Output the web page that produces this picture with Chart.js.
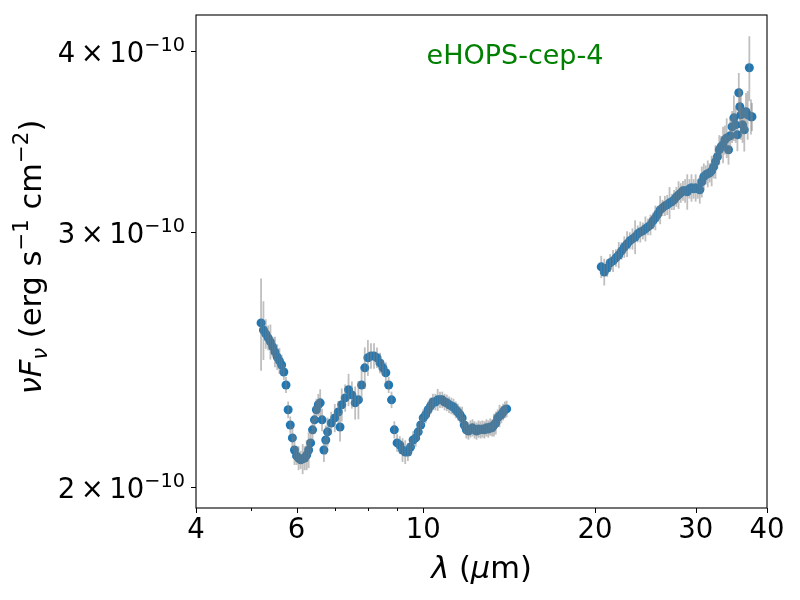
<!DOCTYPE html>
<html>
<head>
<meta charset="utf-8">
<script src="https://cdn.jsdelivr.net/npm/chart.js@4/dist/chart.umd.min.js"></script>
<style>
html,body{margin:0;padding:0;background:#fff;}
#wrap{width:800px;height:600px;position:relative;}
</style>
</head>
<body>
<div id="wrap"><canvas id="c" width="800" height="600"></canvas></div>
<script>
// ---- Data (flux in units of 1e-10 erg s^-1 cm^-2) ----
const titleText = "eHOPS-cep-4";
const lam1 = [5.20,5.25,5.30,5.35,5.40,5.45,5.50,5.55,5.60,5.65,5.70,5.75,5.80,5.85,5.90,5.95,6.00,6.05,6.10,6.15,6.20,6.25,6.30,6.35,6.40,6.45,6.50,6.55,6.60,6.65,6.70,6.75,6.80,6.90,7.00,7.10,7.15,7.20,7.30,7.40,7.50,7.60,7.70,7.80,7.90,8.00,8.10,8.20,8.30,8.40,8.50,8.60,8.70,8.80,8.90,9.00,9.10,9.20,9.30,9.40,9.50,9.60,9.70,9.80,9.90,10.0,10.1,10.2,10.3,10.4,10.5,10.6,10.7,10.8,10.9,11.0,11.1,11.2,11.3,11.4,11.5,11.6,11.7,11.8,11.9,12.0,12.1,12.2,12.3,12.4,12.5,12.6,12.7,12.8,12.9,13.0,13.1,13.2,13.3,13.4,13.5,13.6,13.7,13.8,13.9,14.0];
const flux1 = [2.596,2.567,2.551,2.535,2.519,2.499,2.479,2.459,2.444,2.428,2.401,2.352,2.261,2.207,2.162,2.121,2.101,2.094,2.088,2.091,2.094,2.104,2.121,2.145,2.190,2.225,2.261,2.279,2.286,2.225,2.121,2.155,2.183,2.214,2.232,2.253,2.200,2.279,2.304,2.334,2.315,2.286,2.297,2.352,2.417,2.456,2.463,2.463,2.456,2.436,2.417,2.398,2.352,2.297,2.190,2.145,2.138,2.121,2.114,2.114,2.131,2.155,2.162,2.183,2.207,2.232,2.243,2.261,2.275,2.289,2.289,2.297,2.297,2.297,2.289,2.286,2.279,2.275,2.271,2.261,2.253,2.243,2.232,2.207,2.190,2.186,2.193,2.197,2.190,2.186,2.193,2.190,2.193,2.190,2.197,2.193,2.200,2.197,2.207,2.214,2.232,2.239,2.243,2.253,2.261,2.264];
const err1 = [0.19,0.12,0.06,0.05,0.07,0.04,0.06,0.05,0.05,0.04,0.03,0.03,0.03,0.03,0.04,0.05,0.03,0.04,0.03,0.05,0.04,0.05,0.06,0.04,0.04,0.05,0.04,0.04,0.05,0.04,0.04,0.05,0.05,0.04,0.05,0.04,0.05,0.06,0.05,0.06,0.05,0.06,0.07,0.06,0.08,0.07,0.05,0.05,0.04,0.04,0.03,0.04,0.03,0.03,0.03,0.03,0.03,0.04,0.04,0.03,0.03,0.03,0.03,0.03,0.03,0.03,0.03,0.03,0.03,0.03,0.03,0.04,0.03,0.03,0.03,0.03,0.03,0.03,0.03,0.03,0.03,0.03,0.04,0.03,0.03,0.03,0.03,0.03,0.03,0.03,0.03,0.03,0.03,0.03,0.03,0.03,0.03,0.03,0.04,0.04,0.03,0.04,0.03,0.03,0.03,0.03];
const lam2 = [20.5,20.75,21.0,21.25,21.5,21.75,22.0,22.25,22.5,22.75,23.0,23.25,23.5,23.75,24.0,24.25,24.5,24.75,25.0,25.25,25.5,25.75,26.0,26.25,26.5,26.75,27.0,27.25,27.5,27.75,28.0,28.25,28.5,28.75,29.0,29.25,29.5,29.75,30.0,30.25,30.5,30.75,31.0,31.25,31.5,31.75,32.0,32.25,32.5,32.75,33.0,33.25,33.5,33.75,34.0,34.25,34.5,34.75,35.0,35.25,35.5,35.7,35.85,36.0,36.25,36.5,36.75,37.0,37.25,37.5,37.65];
const flux2 = [2.838,2.815,2.833,2.856,2.865,2.879,2.892,2.911,2.929,2.943,2.958,2.967,2.976,2.991,3.000,3.005,3.015,3.024,3.034,3.053,3.068,3.087,3.107,3.117,3.127,3.132,3.142,3.147,3.157,3.172,3.182,3.192,3.203,3.203,3.198,3.213,3.218,3.213,3.218,3.213,3.208,3.249,3.275,3.285,3.291,3.296,3.306,3.327,3.354,3.381,3.419,3.435,3.446,3.473,3.484,3.419,3.496,3.546,3.597,3.557,3.501,3.743,3.661,3.614,3.557,3.529,3.632,3.614,3.895,3.603,3.603];
const err2 = [0.05,0.06,0.04,0.04,0.05,0.04,0.06,0.04,0.05,0.06,0.04,0.05,0.08,0.04,0.05,0.04,0.06,0.04,0.05,0.04,0.06,0.04,0.07,0.04,0.05,0.05,0.08,0.04,0.05,0.05,0.07,0.05,0.05,0.06,0.09,0.05,0.07,0.05,0.07,0.05,0.07,0.08,0.07,0.05,0.07,0.05,0.08,0.06,0.09,0.06,0.08,0.06,0.10,0.08,0.11,0.08,0.10,0.09,0.13,0.10,0.09,0.12,0.11,0.14,0.10,0.12,0.11,0.14,0.20,0.10,0.08];
const xMajorTicks = [4, 6, 10, 20, 30, 40];
const xMinorTicks = [5, 7, 8, 9];
const yTicks = [2, 3, 4];
const yTickExp = "\u221210";

const FONT = '"DejaVu Sans", sans-serif';
const TICK_FS = 27.5;
const LABEL_FS = 30.5;

function pts(xs, ys, es) { return xs.map((x, i) => ({x: x, y: ys[i], e: es[i]})); }

function drawParts(ctx, parts, x, y, align) {
  let w = 0;
  parts.forEach(p => { ctx.font = p.font; p.w = ctx.measureText(p.t).width; w += p.w; });
  let cx = align === 'right' ? x - w : (align === 'center' ? x - w / 2 : x);
  parts.forEach(p => { ctx.font = p.font; ctx.fillText(p.t, cx, y + (p.dy || 0)); cx += p.w; });
}

const axesPlugin = {
  id: 'axesPlugin',
  afterDatasetsDraw(chart) {
    const ctx = chart.ctx, a = chart.chartArea, xs = chart.scales.x, ys = chart.scales.y;
    ctx.save();
    ctx.beginPath(); ctx.rect(a.left, a.top, a.right - a.left, a.bottom - a.top); ctx.clip();
    ctx.strokeStyle = 'rgba(128,128,128,0.5)';
    ctx.lineWidth = 1.8;
    chart.data.datasets.forEach(ds => {
      ds.data.forEach(p => {
        const px = xs.getPixelForValue(p.x);
        ctx.beginPath();
        ctx.moveTo(px, ys.getPixelForValue(p.y - p.e));
        ctx.lineTo(px, ys.getPixelForValue(p.y + p.e));
        ctx.stroke();
      });
    });
    ctx.restore();
  },
  afterDraw(chart) {
    const ctx = chart.ctx, a = chart.chartArea, xs = chart.scales.x, ys = chart.scales.y;
    ctx.save();
    ctx.strokeStyle = '#000'; ctx.lineWidth = 1.1;
    ctx.strokeRect(a.left, a.top, a.right - a.left, a.bottom - a.top);
    ctx.fillStyle = '#000';
    ctx.lineWidth = 1;
    const tf = TICK_FS + 'px ' + FONT;
    xMajorTicks.forEach(v => {
      const px = Math.round(xs.getPixelForValue(v)) + 0.5;
      ctx.beginPath(); ctx.moveTo(px, a.bottom); ctx.lineTo(px, a.bottom + 5); ctx.stroke();
      ctx.font = tf; ctx.textAlign = 'center'; ctx.textBaseline = 'alphabetic';
      ctx.fillText(String(v), xs.getPixelForValue(v), a.bottom + 30);
    });
    xMinorTicks.forEach(v => {
      const px = Math.round(xs.getPixelForValue(v)) + 0.5;
      ctx.beginPath(); ctx.moveTo(px, a.bottom); ctx.lineTo(px, a.bottom + 3); ctx.stroke();
    });
    ctx.textAlign = 'left';
    yTicks.forEach(v => {
      const py = Math.round(ys.getPixelForValue(v)) + 0.5;
      ctx.beginPath(); ctx.moveTo(a.left, py); ctx.lineTo(a.left - 5, py); ctx.stroke();
      drawParts(ctx, [
        {t: v + '\u2009\u00d7\u200910', font: tf},
        {t: yTickExp, font: (TICK_FS * 0.7).toFixed(1) + 'px ' + FONT, dy: -11}
      ], a.left - 11, py + 10, 'right');
    });
    const it = 'italic ' + LABEL_FS + 'px ' + FONT, rg = LABEL_FS + 'px ' + FONT;
    const sm = (LABEL_FS * 0.7).toFixed(1) + 'px ' + FONT, smi = 'italic ' + sm;
    drawParts(ctx, [
      {t: '\u03bb', font: it}, {t: ' (', font: rg}, {t: '\u03bc', font: it}, {t: 'm)', font: rg}
    ], (a.left + a.right) / 2, 578, 'center');
    ctx.save();
    ctx.translate(41, 257);
    ctx.rotate(-Math.PI / 2);
    drawParts(ctx, [
      {t: '\u03bdF', font: it}, {t: '\u03bd', font: smi, dy: 6},
      {t: ' (erg s', font: rg}, {t: '\u22121', font: sm, dy: -13},
      {t: ' cm', font: rg}, {t: '\u22122', font: sm, dy: -13},
      {t: ')', font: rg}
    ], 0, 0, 'center');
    ctx.restore();
    ctx.fillStyle = '#008000';
    ctx.font = '27px ' + FONT; ctx.textAlign = 'center';
    ctx.fillText(titleText, 515, 64);
    ctx.restore();
  }
};

new Chart(document.getElementById('c'), {
  type: 'scatter',
  data: {
    datasets: [
      {data: pts(lam1, flux1, err1), backgroundColor: '#1f77b4', borderColor: '#1f77b4', pointRadius: 4.5, borderWidth: 0},
      {data: pts(lam2, flux2, err2), backgroundColor: '#1f77b4', borderColor: '#1f77b4', pointRadius: 4.5, borderWidth: 0}
    ]
  },
  options: {
    responsive: false,
    animation: false,
    devicePixelRatio: 1,
    layout: {padding: {left: 196, right: 33, top: 15, bottom: 92}},
    plugins: {legend: {display: false}, tooltip: {enabled: false}},
    scales: {
      x: {type: 'logarithmic', min: 4, max: 40, display: false},
      y: {type: 'logarithmic', min: 1.934, max: 4.236, display: false}
    }
  },
  plugins: [axesPlugin]
});
</script>
</body>
</html>
